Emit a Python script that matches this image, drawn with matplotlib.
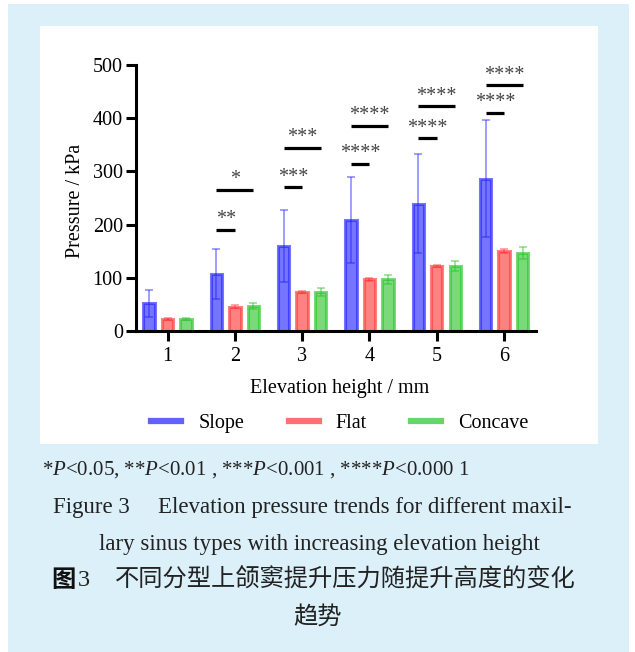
import matplotlib
matplotlib.use("Agg")
import matplotlib.pyplot as plt
from matplotlib.patches import Rectangle
from matplotlib.lines import Line2D
import numpy as np

plt.rcParams["font.family"] = ["Liberation Serif", "DejaVu Serif"]
plt.rcParams["mathtext.fontset"] = "custom"
plt.rcParams["mathtext.rm"] = "Liberation Serif"
plt.rcParams["mathtext.it"] = "Liberation Serif:italic"

# ---- data -------------------------------------------------------------
heights = [1, 2, 3, 4, 5, 6]
series = ["Slope", "Flat", "Concave"]
slope_mean = [52, 107, 160, 208, 239, 286]
slope_sd = [25, 47, 68, 81, 93, 110]
flat_mean = [22, 46, 73, 97, 122, 150]
flat_sd = [1.5, 3, 2.5, 3.5, 2.5, 4]
concave_mean = [23, 47.5, 73, 97, 122, 147]
concave_sd = [2, 6, 8, 8, 9, 11]

# significance brackets: (elevation height, compared series index, bar y, label)
sig_height = [2, 2, 3, 3, 4, 4, 5, 5, 6, 6]
sig_target = [1, 2, 1, 2, 1, 2, 1, 2, 1, 2]
sig_y = [190, 265, 270, 344, 314, 386, 362, 422, 410, 462]
sig_label = ["**", "*", "***", "***", "****", "****", "****", "****", "****", "****"]

W, H = 635, 652
fig = plt.figure(figsize=(W / 100, H / 100), dpi=100)
fig.patch.set_facecolor("white")

def fx(px):
    return px / W

def fy(py):
    return 1 - py / H

# page background and white chart panel
fig.patches.append(Rectangle((fx(8), fy(652)), fx(629) - fx(8), fy(4) - fy(652),
                             transform=fig.transFigure, facecolor="#dcf0fa",
                             edgecolor="none", zorder=-10))
fig.patches.append(Rectangle((fx(40), fy(444)), fx(598) - fx(40), fy(26) - fy(444),
                             transform=fig.transFigure, facecolor="white",
                             edgecolor="none", zorder=-9))

ax = fig.add_axes([fx(136), fy(331), fx(536) - fx(136), fy(65) - fy(331)])
ax.set_facecolor("none")

colors = ["#2020ff", "#ff3535", "#28c428"]
means = [slope_mean, flat_mean, concave_mean]
sds = [slope_sd, flat_sd, concave_sd]
offsets = [-0.275, 0.0, 0.275]
bw = 0.17
x = np.array(heights, dtype=float)

for i in range(3):
    xs = x + offsets[i]
    ax.bar(xs, means[i], width=bw, color=colors[i], alpha=0.62,
           edgecolor=colors[i], linewidth=2.2, zorder=2)
    ax.errorbar(xs, means[i], yerr=sds[i], fmt="none", ecolor=colors[i],
                alpha=0.5, elinewidth=1.2, capsize=3, capthick=1.2, zorder=3)

for h, t, yv, lab in zip(sig_height, sig_target, sig_y, sig_label):
    x0 = h + offsets[0]
    x1 = h + offsets[t]
    ax.plot([x0, x1], [yv, yv], color="black", lw=2.3, solid_capstyle="butt",
            clip_on=False, zorder=4)
    ax.annotate(lab, xy=((x0 + x1) / 2, yv), xytext=(0, 4),
                textcoords="offset points", ha="center", va="baseline",
                fontsize=14.5, color="#444444", annotation_clip=False)

ax.set_xlim(0.53, 6.475)
ax.set_ylim(0, 500)
ax.set_xticks(heights)
ax.set_xticklabels([str(h) for h in heights])
ax.set_yticks([0, 100, 200, 300, 400, 500])

for s in ["top", "right"]:
    ax.spines[s].set_visible(False)
for s in ["left", "bottom"]:
    ax.spines[s].set_linewidth(2.2)
ax.tick_params(axis="both", width=2.2, length=7.5, labelsize=14.5,
               colors="black", direction="out")
ax.tick_params(axis="y", pad=2)
ax.tick_params(axis="x", pad=4)

ax.set_ylabel("Pressure / kPa", fontsize=14.5)
ax.yaxis.set_label_coords(-0.128, 0.49)
ax.set_xlabel("Elevation height / mm", fontsize=14.5)
ax.xaxis.set_label_coords(0.508, -0.18)

handles = [Line2D([0], [0], color=c, lw=4.5, alpha=0.7) for c in colors]
fig.legend(handles, series, loc="center", bbox_to_anchor=(fx(340), fy(423)),
           ncol=3, frameon=False, fontsize=14.5, handlelength=1.5,
           handletextpad=0.85, columnspacing=2.2)

# caption block
fig.text(fx(41.7), fy(475),
         "*$P$<0.05, **$P$<0.01 , ***$P$<0.001 , ****$P$<0.000 1",
         fontsize=15, ha="left", va="baseline", color="#222222")
fig.text(fx(53), fy(513), "Figure 3", fontsize=16.5, ha="left",
         va="baseline", color="#222222")
fig.text(fx(158.5), fy(513), "Elevation pressure trends for different maxil-",
         fontsize=16.5, ha="left", va="baseline", color="#222222")
fig.text(fx(319), fy(550), "lary sinus types with increasing elevation height",
         fontsize=16.5, ha="center", va="baseline", color="#222222")

cjk = ["Noto Sans CJK SC", "DejaVu Sans"]
fig.text(fx(51.7), fy(580), "图", fontsize=17.5, family=cjk, weight="bold",
         ha="left", va="center", color="#111111")
fig.text(fx(78), fy(580), "3", fontsize=17.5, family=["Liberation Serif"],
         ha="left", va="center", color="#222222")
fig.text(fx(115), fy(580), "不同分型上颌窦提升压力随提升高度的变化",
         fontsize=17.5, family=cjk, weight="light", ha="left", va="center",
         color="#222222")
fig.text(fx(318), fy(617), "趋势", fontsize=17.5, family=cjk, weight="light",
         ha="center", va="center", color="#222222")

fig.savefig("out.png", dpi=100, facecolor=fig.get_facecolor())
